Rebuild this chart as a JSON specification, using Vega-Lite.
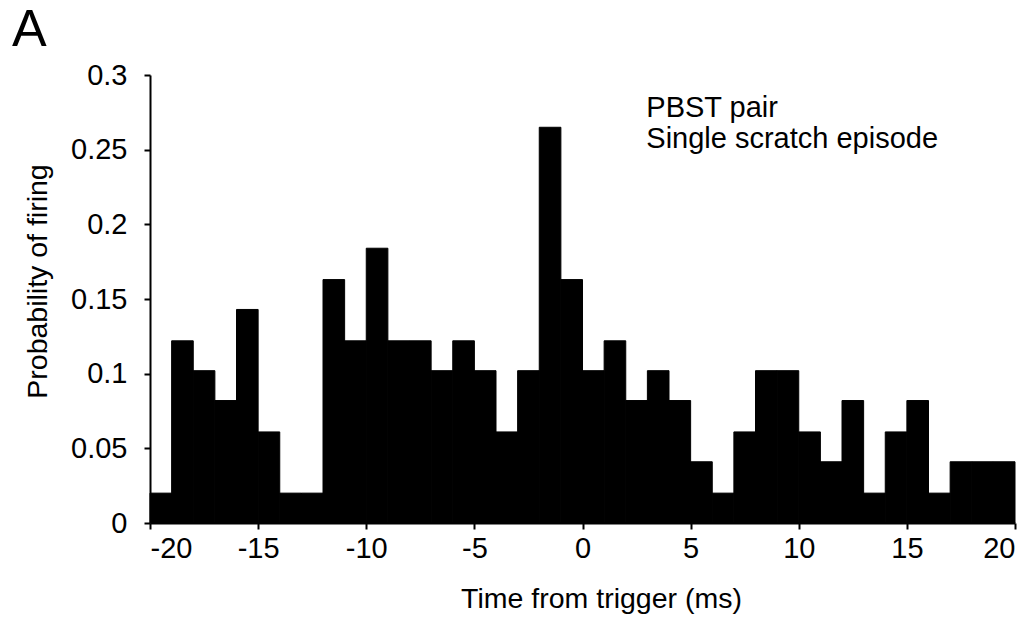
{
  "$schema": "https://vega.github.io/schema/vega-lite/v6.json",
  "width": 865,
  "height": 448,
  "autosize": {"type": "none"},
  "padding": {"left": 150, "top": 75, "right": 12, "bottom": 98},
  "background": "white",
  "config": {
    "view": {"stroke": null},
    "font": "Liberation Sans",
    "axis": {"grid": false, "domainColor": "black", "tickColor": "black", "labelColor": "black", "titleColor": "black", "labelFont": "Liberation Sans", "titleFont": "Liberation Sans", "titleFontWeight": "normal", "domainWidth": 2, "tickWidth": 2, "tickSize": 6, "labelFontSize": 29, "titleFontSize": 28.5}
  },
  "title": {"text": "A", "anchor": "start", "frame": "group", "fontSize": 52, "fontWeight": "normal", "font": "Liberation Sans", "color": "black", "dx": -138, "offset": 4},
  "data": {"values": [
    {"start": -20, "end": -19, "p": 0.020},
    {"start": -19, "end": -18, "p": 0.122},
    {"start": -18, "end": -17, "p": 0.102},
    {"start": -17, "end": -16, "p": 0.082},
    {"start": -16, "end": -15, "p": 0.143},
    {"start": -15, "end": -14, "p": 0.061},
    {"start": -14, "end": -13, "p": 0.020},
    {"start": -13, "end": -12, "p": 0.020},
    {"start": -12, "end": -11, "p": 0.163},
    {"start": -11, "end": -10, "p": 0.122},
    {"start": -10, "end": -9, "p": 0.184},
    {"start": -9, "end": -8, "p": 0.122},
    {"start": -8, "end": -7, "p": 0.122},
    {"start": -7, "end": -6, "p": 0.102},
    {"start": -6, "end": -5, "p": 0.122},
    {"start": -5, "end": -4, "p": 0.102},
    {"start": -4, "end": -3, "p": 0.061},
    {"start": -3, "end": -2, "p": 0.102},
    {"start": -2, "end": -1, "p": 0.265},
    {"start": -1, "end": 0, "p": 0.163},
    {"start": 0, "end": 1, "p": 0.102},
    {"start": 1, "end": 2, "p": 0.122},
    {"start": 2, "end": 3, "p": 0.082},
    {"start": 3, "end": 4, "p": 0.102},
    {"start": 4, "end": 5, "p": 0.082},
    {"start": 5, "end": 6, "p": 0.041},
    {"start": 6, "end": 7, "p": 0.020},
    {"start": 7, "end": 8, "p": 0.061},
    {"start": 8, "end": 9, "p": 0.102},
    {"start": 9, "end": 10, "p": 0.102},
    {"start": 10, "end": 11, "p": 0.061},
    {"start": 11, "end": 12, "p": 0.041},
    {"start": 12, "end": 13, "p": 0.082},
    {"start": 13, "end": 14, "p": 0.020},
    {"start": 14, "end": 15, "p": 0.061},
    {"start": 15, "end": 16, "p": 0.082},
    {"start": 16, "end": 17, "p": 0.020},
    {"start": 17, "end": 18, "p": 0.041},
    {"start": 18, "end": 19, "p": 0.041},
    {"start": 19, "end": 20, "p": 0.041}
  ]},
  "layer": [
    {
      "mark": {"type": "rect", "color": "black", "stroke": "black", "strokeWidth": 1},
      "encoding": {
        "x": {"field": "start", "type": "quantitative", "scale": {"domain": [-20, 20], "nice": false, "zero": false},
              "axis": {"values": [-20, -15, -10, -5, 0, 5, 10, 15, 20], "labelExpr": "replace(datum.label, '\u2212', '-')", "title": "Time from trigger (ms)", "labelPadding": 5, "titleX": 451, "titleY": 84, "titleBaseline": "alphabetic", "titleAlign": "center"}},
        "x2": {"field": "end"},
        "y": {"field": "p", "type": "quantitative", "scale": {"domain": [0, 0.3], "nice": false},
              "axis": {"values": [0, 0.05, 0.1, 0.15, 0.2, 0.25, 0.3], "format": "~g", "title": "Probability of firing", "labelPadding": 17, "titleX": -104, "titleY": 206, "titleAngle": -90, "titleBaseline": "alphabetic", "titleAlign": "center"}},
        "y2": {"datum": 0}
      }
    },
    {
      "data": {"values": [{"note": "PBST pair"}]},
      "mark": {"type": "text", "text": ["PBST pair", "Single scratch episode"], "align": "left", "baseline": "alphabetic", "fontSize": 29, "lineHeight": 31, "font": "Liberation Sans", "color": "black"},
      "encoding": {
        "x": {"datum": 2.95, "type": "quantitative"},
        "y": {"datum": 0.272, "type": "quantitative"}
      }
    }
  ]
}
